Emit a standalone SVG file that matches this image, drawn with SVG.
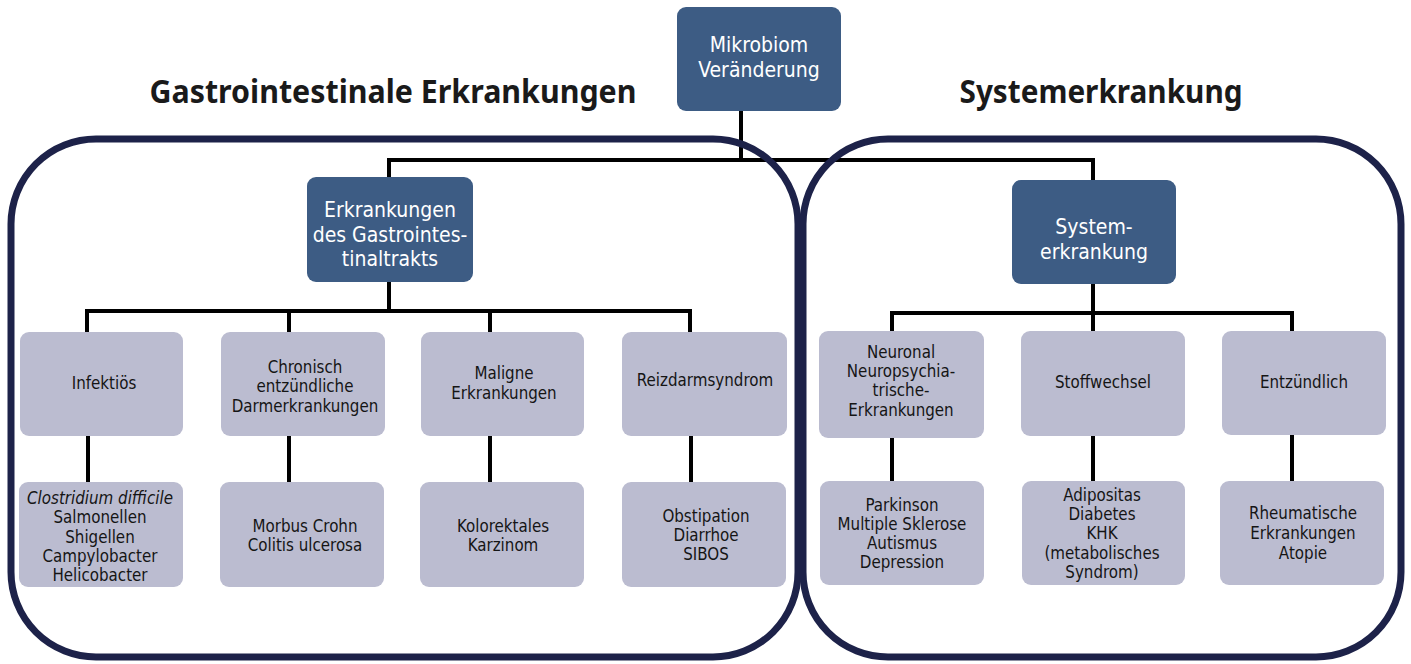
<svg xmlns="http://www.w3.org/2000/svg" width="1411" height="664" viewBox="0 0 1411 664">
<style>
.dark{fill:#3d5c84;}
.light{fill:#bbbcd0;}
.frame{fill:none;stroke:#1d2249;stroke-width:7;}
.conn{fill:none;stroke:#000;stroke-width:4;stroke-linejoin:miter;stroke-linecap:butt;}
.wt{font-family:"DejaVu Sans Condensed","DejaVu Sans",sans-serif;font-size:21px;fill:#fff;text-anchor:middle;}
.bt{font-family:"DejaVu Sans Condensed","DejaVu Sans",sans-serif;font-size:16.8px;fill:#151515;text-anchor:middle;}
.title{font-family:"Noto Sans","Open Sans",sans-serif;font-weight:bold;font-size:32px;fill:#1a1a1a;text-anchor:middle;}
</style>
<rect width="1411" height="664" fill="#fff"/>
<g id="titles">
<text class="title" x="393" y="103" textLength="487" lengthAdjust="spacingAndGlyphs">Gastrointestinale Erkrankungen</text>
<text class="title" x="1101" y="103" textLength="283" lengthAdjust="spacingAndGlyphs">Systemerkrankung</text>
</g>
<g id="connectors">
<path class="conn" d="M741 111 V160 M389 177 V160 H1093 V180"/>
<path class="conn" d="M389 282 V311 M87 332 V311 H690 V332 M289 311 V332 M490 311 V332"/>
<path class="conn" d="M1093 284 V331 M892 331 V313 H1292 V331"/>
<path class="conn" d="M88 436 V482 M289 436 V482 M490 436 V482 M691 436 V482"/>
<path class="conn" d="M892 438 V481 M1093 436 V481 M1292 435 V481"/>
</g>
<g id="frames">
<rect class="frame" x="11" y="139" width="787" height="518" rx="85" ry="85"/>
<rect class="frame" x="803" y="139" width="598" height="518" rx="85" ry="85"/>
</g>
<g id="n-mikrobiom">
<rect class="dark" x="677" y="7" width="164" height="104" rx="9"/>
<text class="wt" x="759" y="52">Mikrobiom</text>
<text class="wt" x="759" y="77">Veränderung</text>
</g>
<g id="n-gastro">
<rect class="dark" x="307" y="177" width="166" height="105" rx="9"/>
<text class="wt" x="390" y="217">Erkrankungen</text>
<text class="wt" x="390" y="242">des Gastrointes-</text>
<text class="wt" x="390" y="266">tinaltrakts</text>
</g>
<g id="n-system">
<rect class="dark" x="1012" y="180" width="164" height="104" rx="9"/>
<text class="wt" x="1094" y="234">System-</text>
<text class="wt" x="1094" y="259">erkrankung</text>
</g>
<g id="n-infektioes">
<rect class="light" x="20" y="332" width="163" height="104" rx="9"/>
<text class="bt" x="104" y="389">Infektiös</text>
</g>
<g id="n-ced">
<rect class="light" x="221" y="332" width="164" height="104" rx="9"/>
<text class="bt" x="305" y="373">Chronisch</text>
<text class="bt" x="305" y="392">entzündliche</text>
<text class="bt" x="305" y="412">Darmerkrankungen</text>
</g>
<g id="n-maligne">
<rect class="light" x="421" y="332" width="163" height="104" rx="9"/>
<text class="bt" x="504" y="379">Maligne</text>
<text class="bt" x="504" y="399">Erkrankungen</text>
</g>
<g id="n-reizdarm">
<rect class="light" x="622" y="332" width="165" height="104" rx="9"/>
<text class="bt" x="705" y="386">Reizdarmsyndrom</text>
</g>
<g id="n-erreger">
<rect class="light" x="19" y="482" width="164" height="105" rx="9"/>
<text class="bt" x="100" y="504" font-style="italic">Clostridium difficile</text>
<text class="bt" x="100" y="523">Salmonellen</text>
<text class="bt" x="100" y="543">Shigellen</text>
<text class="bt" x="100" y="562">Campylobacter</text>
<text class="bt" x="100" y="581">Helicobacter</text>
</g>
<g id="n-crohn">
<rect class="light" x="220" y="482" width="164" height="105" rx="9"/>
<text class="bt" x="305" y="532">Morbus Crohn</text>
<text class="bt" x="305" y="551">Colitis ulcerosa</text>
</g>
<g id="n-karzinom">
<rect class="light" x="420" y="482" width="164" height="105" rx="9"/>
<text class="bt" x="503" y="532">Kolorektales</text>
<text class="bt" x="503" y="551">Karzinom</text>
</g>
<g id="n-obstipation">
<rect class="light" x="622" y="482" width="164" height="105" rx="9"/>
<text class="bt" x="706" y="522">Obstipation</text>
<text class="bt" x="706" y="541">Diarrhoe</text>
<text class="bt" x="706" y="560">SIBOS</text>
</g>
<g id="n-neuronal">
<rect class="light" x="819" y="331" width="165" height="107" rx="9"/>
<text class="bt" x="901" y="358">Neuronal</text>
<text class="bt" x="901" y="377">Neuropsychia-</text>
<text class="bt" x="901" y="396">trische-</text>
<text class="bt" x="901" y="416">Erkrankungen</text>
</g>
<g id="n-stoffwechsel">
<rect class="light" x="1021" y="331" width="164" height="105" rx="9"/>
<text class="bt" x="1103" y="388">Stoffwechsel</text>
</g>
<g id="n-entzuendlich">
<rect class="light" x="1222" y="331" width="164" height="104" rx="9"/>
<text class="bt" x="1304" y="388">Entzündlich</text>
</g>
<g id="n-parkinson">
<rect class="light" x="820" y="481" width="164" height="104" rx="9"/>
<text class="bt" x="902" y="511">Parkinson</text>
<text class="bt" x="902" y="530">Multiple Sklerose</text>
<text class="bt" x="902" y="549">Autismus</text>
<text class="bt" x="902" y="568">Depression</text>
</g>
<g id="n-adipositas">
<rect class="light" x="1022" y="481" width="163" height="104" rx="9"/>
<text class="bt" x="1102" y="501">Adipositas</text>
<text class="bt" x="1102" y="520">Diabetes</text>
<text class="bt" x="1102" y="539">KHK</text>
<text class="bt" x="1102" y="559">(metabolisches</text>
<text class="bt" x="1102" y="578">Syndrom)</text>
</g>
<g id="n-rheuma">
<rect class="light" x="1220" y="481" width="164" height="104" rx="9"/>
<text class="bt" x="1303" y="519">Rheumatische</text>
<text class="bt" x="1303" y="539">Erkrankungen</text>
<text class="bt" x="1303" y="559">Atopie</text>
</g>
</svg>
